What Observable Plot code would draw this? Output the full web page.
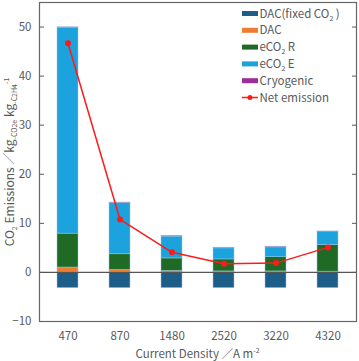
<!DOCTYPE html>
<html><head><meta charset="utf-8">
<script src="https://cdn.jsdelivr.net/npm/d3@7"></script>
<script src="https://cdn.jsdelivr.net/npm/@observablehq/plot@0.6"></script>
<style>
html,body{margin:0;padding:0;background:#fff;}
#chart{width:359px;height:361px;}
</style>
</head><body><div id="chart"></div>
<script>
const categories = ["470","870","1480","2520","3220","4320"];
const seriesNames = ["DAC(fixed CO2)","DAC","eCO2 R","eCO2 E","Cryogenic"];
const dacFixed = [-3.2,-3.2,-3.2,-3.2,-3.2,-3.2];
const dac = [1.0,0.5,0.3,0.2,0.2,0.15];
const eco2r = [6.9,3.2,2.55,2.45,2.9,5.45];
const eco2e = [41.9,10.4,4.45,2.25,2.0,2.6];
const cryogenic = [0.15,0.15,0.15,0.15,0.15,0.15];
const netEmission = [46.7,10.8,4.1,1.75,1.9,5.1];
const yTicks = [-10,0,10,20,30,40,50];
const colors = ["#1d5e88","#ee7d31","#1f6b25","#1ca2dd","#9c2e9c"];
const lineColor = "#ff1a1a";

const seriesValues = [dacFixed, dac, eco2r, eco2e, cryogenic];
const rows = [];
seriesNames.forEach((s, si) => categories.forEach((c, ci) => rows.push({cat: c, series: s, value: seriesValues[si][ci]})));
const netRows = categories.map((c, i) => ({cat: c, value: netEmission[i]}));

const font = "'Noto Sans CJK JP','Noto Sans',sans-serif";
const gray = "#595959";

const chart = Plot.plot({
  width: 359, height: 361,
  marginTop: 2, marginLeft: 39, marginRight: 3, marginBottom: 40,
  style: {fontFamily: font, fontSize: "11.5px", color: gray, background: "#fff"},
  x: {domain: categories, paddingInner: 0.6, paddingOuter: 0.3, label: null},
  y: {domain: [-10, 55], label: null},
  color: {domain: seriesNames, range: colors},
  marks: [
    Plot.barY(rows, {x: "cat", y: "value", fill: "series", order: seriesNames, stroke: "#9cc6e0", strokeWidth: 0.6, strokeOpacity: 0.8}),
    Plot.ruleY([0], {stroke: "#555", strokeWidth: 1.2}),
    Plot.line(netRows, {x: "cat", y: "value", stroke: lineColor, strokeWidth: 1.5}),
    Plot.dot(netRows, {x: "cat", y: "value", fill: lineColor, r: 3}),
    Plot.axisY({anchor: "left", ticks: yTicks, tickSize: -5, tickPadding: 13, stroke: gray, fill: gray, label: null}),
    Plot.axisY({anchor: "right", ticks: yTicks, tickSize: -5, tickFormat: () => "", stroke: gray, label: null}),
    Plot.axisX({anchor: "bottom", tickSize: 0, tickPadding: 10, fill: gray, label: null}),
    Plot.frame({stroke: "#666", strokeWidth: 1.2})
  ]
});
document.getElementById("chart").appendChild(chart);

const svg = d3.select(chart);
// Legend
const legendItems = [
  {label: ["DAC(fixed CO", "2", " )"], color: colors[0]},
  {label: ["DAC"], color: colors[1]},
  {label: ["eCO", "2", " R"], color: colors[2]},
  {label: ["eCO", "2", " E"], color: colors[3]},
  {label: ["Cryogenic"], color: colors[4]},
  {label: ["Net emission"], color: lineColor, line: true}
];
const lg = svg.append("g").attr("font-family", font).attr("font-size", "11.5px").attr("fill", gray).attr("text-anchor", "start");
legendItems.forEach((it, i) => {
  const cy = 13.5 + i * 16.8;
  if (it.line) {
    lg.append("line").attr("x1", 242).attr("x2", 258).attr("y1", cy).attr("y2", cy).attr("stroke", it.color).attr("stroke-width", 1.5);
    lg.append("circle").attr("cx", 250).attr("cy", cy).attr("r", 2.5).attr("fill", it.color);
  } else {
    lg.append("rect").attr("x", 242).attr("y", cy - 2.5).attr("width", 16).attr("height", 5).attr("fill", it.color);
  }
  const t = lg.append("text").attr("x", 259.5).attr("y", cy + 4).attr("text-anchor", "start");
  it.label.forEach((part, j) => {
    const ts = t.append("tspan").text(part);
    if (it.label.length > 1 && j === 1) ts.attr("font-size", "7px").attr("dy", "3");
    if (it.label.length > 1 && j === 2) ts.attr("dy", "-3");
  });
});

// Y axis label
const yl = svg.append("text")
  .attr("transform", "translate(14,162) rotate(-90)")
  .attr("text-anchor", "middle")
  .attr("font-family", font).attr("font-size", "12px").attr("fill", gray);
const yparts = [
  ["CO", 0, null], ["2", 3, "7px"], [" Emissions ／kg", -3, null], ["-CO2e", 3, "7px"], [" kg", -3, null], ["-C2H4", 3, "7px"], ["-1", -8, "7px"]
];
yparts.forEach(([s, dy, fs]) => {
  const ts = yl.append("tspan").text(s);
  if (dy) ts.attr("dy", dy);
  if (fs) ts.attr("font-size", fs);
});

// X axis label
const xl = svg.append("text")
  .attr("x", 197.5).attr("y", 357.5)
  .attr("text-anchor", "middle")
  .attr("font-family", font).attr("font-size", "11.5px").attr("fill", gray);
xl.append("tspan").text("Current Density ／A m");
xl.append("tspan").text("-2").attr("font-size", "7px").attr("dy", -5);
</script>
</body></html>
